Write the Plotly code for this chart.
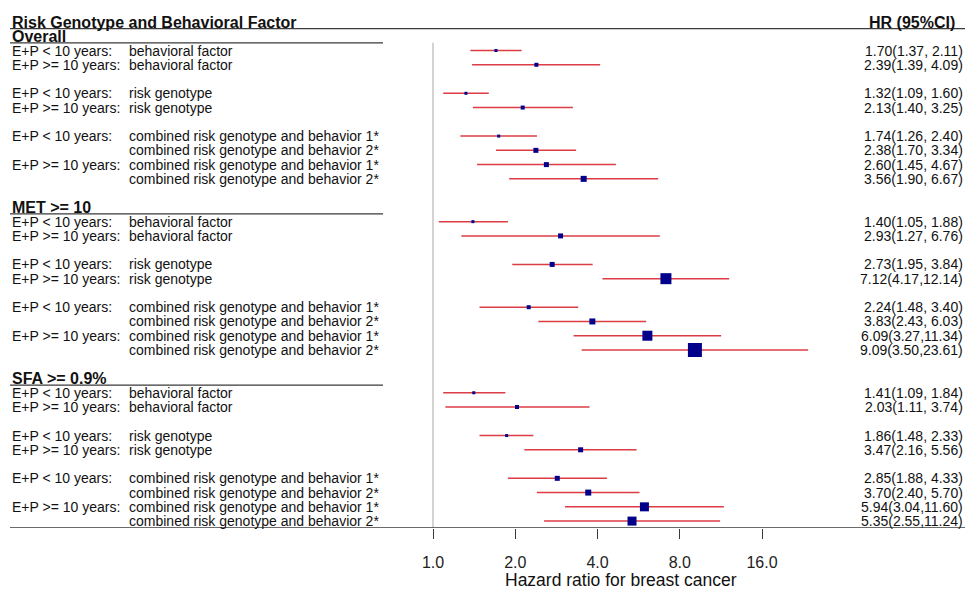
import math
import plotly.graph_objects as go

# ---------------- data ----------------
SECTIONS = ["Overall", "MET >= 10", "SFA >= 0.9%"]

ROW_PREFIX = ["E+P < 10 years:", "E+P >= 10 years:",
              "E+P < 10 years:", "E+P >= 10 years:",
              "E+P < 10 years:", "",
              "E+P >= 10 years:", ""]
ROW_LABEL = ["behavioral factor", "behavioral factor",
             "risk genotype", "risk genotype",
             "combined risk genotype and behavior 1*",
             "combined risk genotype and behavior 2*",
             "combined risk genotype and behavior 1*",
             "combined risk genotype and behavior 2*"]
GROUP_SIZES = [2, 2, 4]

HR_OVERALL = [1.70, 2.39, 1.32, 2.13, 1.74, 2.38, 2.60, 3.56]
LO_OVERALL = [1.37, 1.39, 1.09, 1.40, 1.26, 1.70, 1.45, 1.90]
HI_OVERALL = [2.11, 4.09, 1.60, 3.25, 2.40, 3.34, 4.67, 6.67]

HR_MET = [1.40, 2.93, 2.73, 7.12, 2.24, 3.83, 6.09, 9.09]
LO_MET = [1.05, 1.27, 1.95, 4.17, 1.48, 2.43, 3.27, 3.50]
HI_MET = [1.88, 6.76, 3.84, 12.14, 3.40, 6.03, 11.34, 23.61]

HR_SFA = [1.41, 2.03, 1.86, 3.47, 2.85, 3.70, 5.94, 5.35]
LO_SFA = [1.09, 1.11, 1.48, 2.16, 1.88, 2.40, 3.04, 2.55]
HI_SFA = [1.84, 3.74, 2.33, 5.56, 4.33, 5.70, 11.60, 11.24]

TICK_VALS = [1, 2, 4, 8, 16]
TICK_TEXT = ["1.0", "2.0", "4.0", "8.0", "16.0"]

TITLE = "Risk Genotype and Behavioral Factor"
COL_HEADER = "HR (95%CI)"
X_TITLE = "Hazard ratio for breast cancer"

# ---------------- style ----------------
BOX_PX_OVERALL = [3, 4, 3, 4, 3, 5, 5, 6]
BOX_PX_MET = [3, 5, 5, 11, 4, 6, 10, 14]
BOX_PX_SFA = [3, 4, 3, 5, 5, 6, 9, 9]

W, H = 965, 590
PLOT_BOTTOM = 528           # pixel y of the x axis
ROW_Y0, ROW_H = 22.0, 14.26 # pixel y of row 0 and row pitch
X_ONE, PX_PER_DOUBLING = 433.0, 82.25
FONT = "Liberation Sans, Arial, sans-serif"
BOX_COLOR = "#00008B"
CI_COLOR = "#DC3C46"
RULE_COLOR = "#3a3a3a"
REF_COLOR = "#C4C4C4"

x_lo = -X_ONE / PX_PER_DOUBLING * math.log10(2)
x_hi = (W - X_ONE) / PX_PER_DOUBLING * math.log10(2)
y_top = -ROW_Y0 / ROW_H
y_bot = (PLOT_BOTTOM - ROW_Y0) / ROW_H


def px_x(p):
    return p / W


def px_y(p):
    return 1 - p / PLOT_BOTTOM


hr_all = [HR_OVERALL, HR_MET, HR_SFA]
lo_all = [LO_OVERALL, LO_MET, LO_SFA]
hi_all = [HI_OVERALL, HI_MET, HI_SFA]
box_all = [BOX_PX_OVERALL, BOX_PX_MET, BOX_PX_SFA]

annotations = []
shapes = []
xs, ys, ep, em, sizes = [], [], [], [], []


def add_text(text, x, y, xanchor="left", size=14, bold=False, xref="paper", yref="y"):
    annotations.append(dict(
        text=f"<b>{text}</b>" if bold else text,
        x=x, y=y, xref=xref, yref=yref, xanchor=xanchor, yanchor="middle",
        showarrow=False, borderpad=0,
        font=dict(family=FONT, size=size, color="#111111")))


def hline(y, x0, x1):
    shapes.append(dict(type="line", xref="paper", yref="y",
                       x0=px_x(x0), x1=px_x(x1), y0=y, y1=y,
                       line=dict(color=RULE_COLOR, width=1.3)))


# title row
add_text(TITLE, px_x(11), 0, bold=True, size=16)
add_text(COL_HEADER, px_x(912), 0, xanchor="center", bold=True, size=16)
hline(0.46, 10, W)

k = 1
for s, name in enumerate(SECTIONS):
    add_text(name, px_x(11), k, bold=True, size=16)
    hline(k + 0.46, 10, 383)
    k += 1
    i = 0
    for g, n in enumerate(GROUP_SIZES):
        for _ in range(n):
            hr, lo, hi = hr_all[s][i], lo_all[s][i], hi_all[s][i]
            if ROW_PREFIX[i]:
                add_text(ROW_PREFIX[i], px_x(11), k)
            add_text(ROW_LABEL[i], px_x(127.5), k)
            add_text(f"{hr:.2f}({lo:.2f},{hi:5.2f})",
                     px_x(964), k, xanchor="right")
            xs.append(hr)
            ys.append(k)
            ep.append(hi - hr)
            em.append(hr - lo)
            sizes.append(box_all[s][i])
            i += 1
            k += 1
        if g < len(GROUP_SIZES) - 1:
            k += 1
    k += 1  # blank row before next section
last_row = k - 2
hline(last_row + 0.48, 10, W)

# reference line at HR = 1
shapes.append(dict(type="line", xref="x", yref="y", x0=1, x1=1,
                   y0=1.45, y1=last_row + 0.48,
                   line=dict(color=REF_COLOR, width=1.5), layer="below"))

# axis title
annotations.append(dict(text=X_TITLE, x=px_x(621), y=px_y(580), xref="paper", yref="paper",
                        xanchor="center", yanchor="middle", showarrow=False, borderpad=0,
                        font=dict(family=FONT, size=17.5, color="#111111")))

fig = go.Figure()
fig.add_trace(go.Scatter(
    x=xs, y=ys, mode="markers",
    marker=dict(symbol="square", size=sizes, color=BOX_COLOR, opacity=1,
                line=dict(width=0)),
    error_x=dict(type="data", symmetric=False, array=ep, arrayminus=em,
                 color=CI_COLOR, thickness=1.5, width=0),
    showlegend=False, hoverinfo="skip"))

fig.update_layout(
    width=W, height=H,
    margin=dict(l=0, r=0, t=0, b=H - PLOT_BOTTOM, pad=0),
    paper_bgcolor="white", plot_bgcolor="white",
    showlegend=False,
    xaxis=dict(type="log", range=[x_lo, x_hi], showgrid=False, zeroline=False,
               showline=False, tickmode="array", tickvals=TICK_VALS, ticktext=TICK_TEXT,
               ticks="outside", ticklen=10, tickwidth=1.3, tickcolor=RULE_COLOR,
               ticklabelstandoff=10,
               tickfont=dict(family=FONT, size=16, color="#222222"), fixedrange=True),
    yaxis=dict(range=[y_bot, y_top], visible=False, showgrid=False, zeroline=False,
               fixedrange=True),
    annotations=annotations, shapes=shapes,
)

fig.write_html("out.html", config={"displayModeBar": False},
               post_script="document.body.style.margin='0';")
